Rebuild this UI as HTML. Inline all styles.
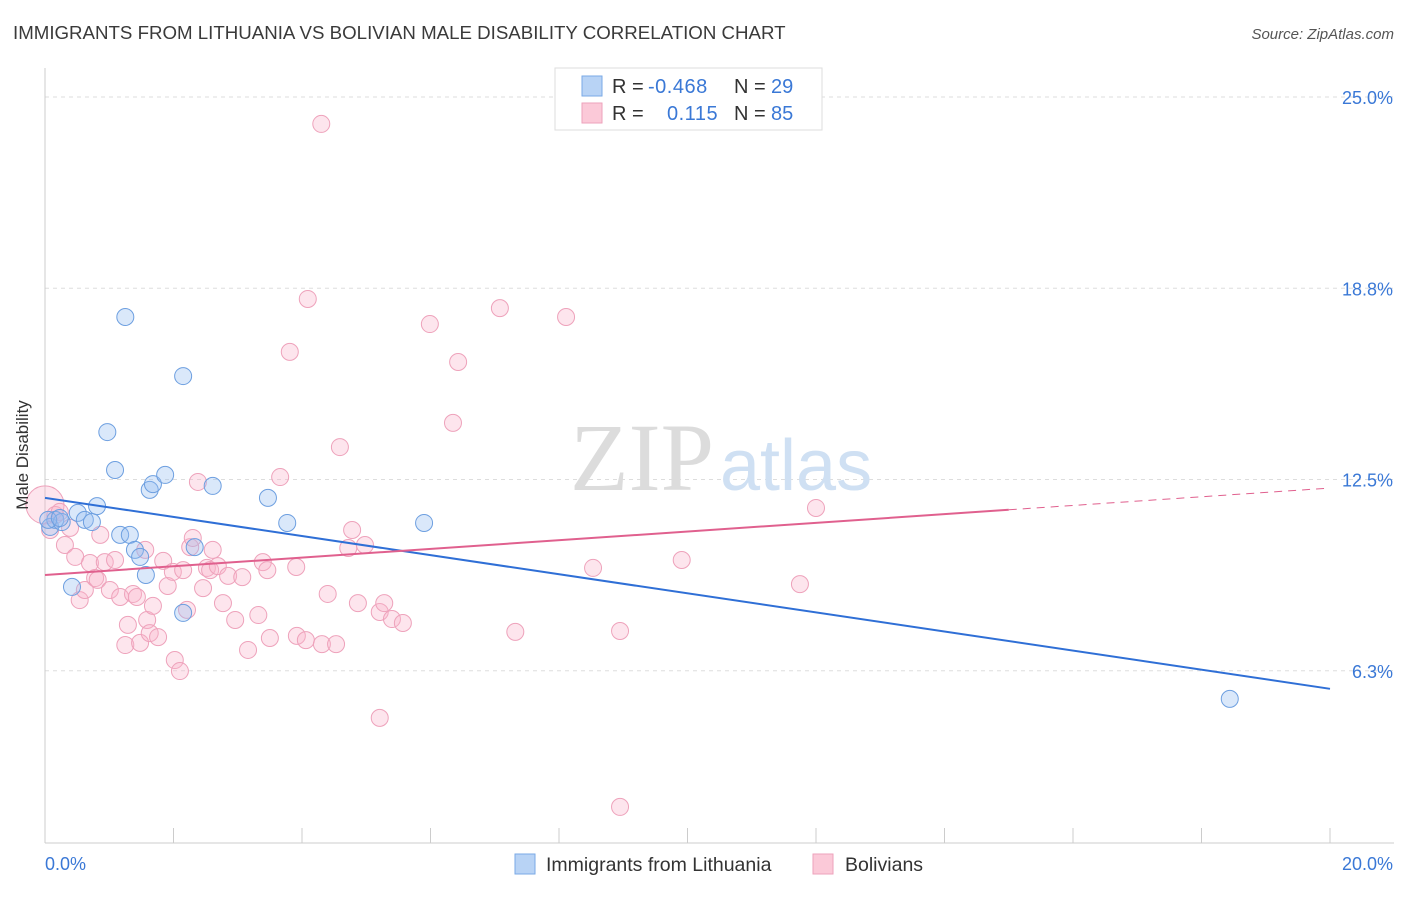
<!DOCTYPE html>
<html><head><meta charset="utf-8"><style>
body{margin:0;background:#fff;font-family:"Liberation Sans",sans-serif;}
svg text{font-family:"Liberation Sans",sans-serif;}
</style></head><body>
<svg width="1406" height="892" xmlns="http://www.w3.org/2000/svg">
<text x="13" y="39" font-size="18.7" fill="#3a3a3a">IMMIGRANTS FROM LITHUANIA VS BOLIVIAN MALE DISABILITY CORRELATION CHART</text>
<text x="1394" y="39" font-size="15" fill="#555" text-anchor="end" font-style="italic">Source: ZipAtlas.com</text>
<g id="grid"></g>
<text x="714" y="490" font-size="96" fill="#dcdcdc" text-anchor="end" style="font-family:'Liberation Serif',serif">ZIP</text>
<text x="720" y="490" font-size="72" fill="#cfe0f3">atlas</text>
<g id="axes"></g>
<g id="pts"></g>
<g id="trends"></g>
<text x="28" y="455" font-size="17" fill="#333" text-anchor="middle" transform="rotate(-90 28 455)">Male Disability</text>
<g>
<rect x="555" y="68" width="267" height="62" fill="#fff" stroke="#ddd"/>
<rect x="582" y="76" width="20" height="20" fill="#b8d3f5" stroke="#7aa9e6"/>
<rect x="582" y="103" width="20" height="20" fill="#fbc9d8" stroke="#eea2bb"/>
<text x="612" y="93" font-size="20" fill="#333">R = </text><text x="648" y="93" font-size="20" fill="#3a78d6" letter-spacing="0.5">-0.468</text>
<text x="734" y="93" font-size="20" fill="#333">N = </text><text x="771" y="93" font-size="20" fill="#3a78d6">29</text>
<text x="612" y="120" font-size="20" fill="#333">R = </text><text x="667" y="120" font-size="20" fill="#3a78d6" letter-spacing="0.5">0.115</text>
<text x="734" y="120" font-size="20" fill="#333">N = </text><text x="771" y="120" font-size="20" fill="#3a78d6">85</text>
</g>
<g>
<rect x="515" y="854" width="20" height="20" fill="#b8d3f5" stroke="#7aa9e6"/>
<text x="546" y="871" font-size="19.5" fill="#333">Immigrants from Lithuania</text>
<rect x="813" y="854" width="20" height="20" fill="#fbc9d8" stroke="#eea2bb"/>
<text x="845" y="871" font-size="19.5" fill="#333">Bolivians</text>
</g>
</svg>
<script>
const yTicks=[25,18.75,12.5,6.25];
const yTickLabels=["25.0%","18.8%","12.5%","6.3%"];
const xTicks=[0,2,4,6,8,10,12,14,16,18,20];
const blueX=[0.08,0.16,0.26,0.42,0.51,0.62,0.73,0.81,0.97,1.09,1.17,1.25,1.32,1.40,1.48,1.57,1.63,1.68,1.87,2.15,2.15,2.33,2.61,3.47,3.77,5.90,18.44,0.05,0.23];
const blueY=[10.95,11.18,11.11,8.99,11.41,11.18,11.11,11.63,14.05,12.81,10.69,17.81,10.69,10.20,9.97,9.38,12.16,12.35,12.65,15.88,8.14,10.29,12.29,11.90,11.08,11.08,5.33,11.18,11.24];
const pinkX=[0,0.08,0.16,0.23,0.31,0.39,0.47,0.54,0.62,0.70,0.78,0.82,0.86,0.93,1.01,1.09,1.17,1.25,1.29,1.37,1.43,1.48,1.56,1.59,1.63,1.68,1.76,1.84,1.91,1.99,2.02,2.10,2.15,2.21,2.26,2.30,2.38,2.46,2.52,2.57,2.61,2.69,2.77,2.85,2.96,3.07,3.16,3.32,3.39,3.46,3.50,3.66,3.81,3.91,3.92,4.06,4.09,4.30,4.31,4.40,4.53,4.59,4.72,4.78,4.87,4.98,5.21,5.28,5.40,5.57,5.21,5.99,6.35,6.43,7.08,7.32,8.11,8.53,8.95,8.95,9.91,11.75,12.00];
const pinkY=[11.67,10.85,11.34,11.44,10.36,10.92,9.97,8.56,8.89,9.77,9.28,9.22,10.69,9.80,8.89,9.87,8.66,7.09,7.75,8.76,8.66,7.16,10.20,7.91,7.48,8.37,7.35,9.84,9.02,9.48,6.60,6.24,9.54,8.24,10.29,10.59,12.42,8.95,9.61,9.54,10.20,9.67,8.46,9.35,7.91,9.31,6.93,8.07,9.80,9.54,7.32,12.58,16.67,9.64,7.39,7.25,18.40,24.12,7.12,8.76,7.12,13.56,10.26,10.85,8.46,10.36,8.17,8.46,7.94,7.81,4.71,17.58,14.35,16.34,18.10,7.52,17.81,9.61,7.55,1.80,9.87,9.08,11.57];
const blueTrend=[11.90,5.66];
const pinkTrend=[9.38,12.22];
const pinkSolidEnd=15;
const NS="http://www.w3.org/2000/svg";
const X=v=>45+v*64.25, Y=v=>862-v*30.6;
function mk(t,a,p){const e=document.createElementNS(NS,t);for(const k in a)e.setAttribute(k,a[k]);p.appendChild(e);return e;}
const grid=document.getElementById('grid'),axes=document.getElementById('axes'),pts=document.getElementById('pts'),tr=document.getElementById('trends');
yTicks.forEach((v,i)=>{
 const l=mk('line',{x1:45,x2:1394,y1:Y(v),y2:Y(v),stroke:'#ddd','stroke-dasharray':'4,4'},grid);
 
 
 const t=mk('text',{x:1393,y:Y(v)+7,'font-size':18,fill:'#3a78d6','text-anchor':'end'},grid);
 t.textContent=yTickLabels[i];
 
 
});
mk('line',{x1:45,x2:45,y1:68,y2:843,stroke:'#ccc'},axes);
mk('line',{x1:45,x2:1394,y1:843,y2:843,stroke:'#ccc'},axes);
xTicks.forEach(v=>{const l=mk('line',{x1:X(v),x2:X(v),y1:828,y2:843,stroke:'#ccc'},axes);
 
 });
let t0=mk('text',{x:45,y:870,'font-size':18,fill:'#3a78d6'},axes);t0.textContent='0.0%';


let t1=mk('text',{x:1393,y:870,'font-size':18,fill:'#3a78d6','text-anchor':'end'},axes);t1.textContent='20.0%';


pinkX.forEach((x,i)=>{const c=mk('circle',{cx:X(x),cy:Y(pinkY[i]),r:i==0?19:8.5,fill:'rgba(248,180,202,0.35)',stroke:'#eea2bb','stroke-width':1},pts);
 
 });
blueX.forEach((x,i)=>{const c=mk('circle',{cx:X(x),cy:Y(blueY[i]),r:8.5,fill:'rgba(150,190,240,0.35)',stroke:'#6d9fe0','stroke-width':1},pts);
 
 });
const bl=mk('line',{x1:X(0),y1:Y(blueTrend[0]),x2:X(20),y2:Y(blueTrend[1]),stroke:'#2f6fd6','stroke-width':2},tr);


const pe=pinkTrend[0]+(pinkTrend[1]-pinkTrend[0])*pinkSolidEnd/20;
const pl=mk('line',{x1:X(0),y1:Y(pinkTrend[0]),x2:X(pinkSolidEnd),y2:Y(pe),stroke:'#e0608e','stroke-width':2},tr);


const pd=mk('line',{x1:X(pinkSolidEnd),y1:Y(pe),x2:X(20),y2:Y(pinkTrend[1]),stroke:'#e0608e','stroke-width':1,'stroke-dasharray':'8,6'},tr);


</script>
</body></html>
